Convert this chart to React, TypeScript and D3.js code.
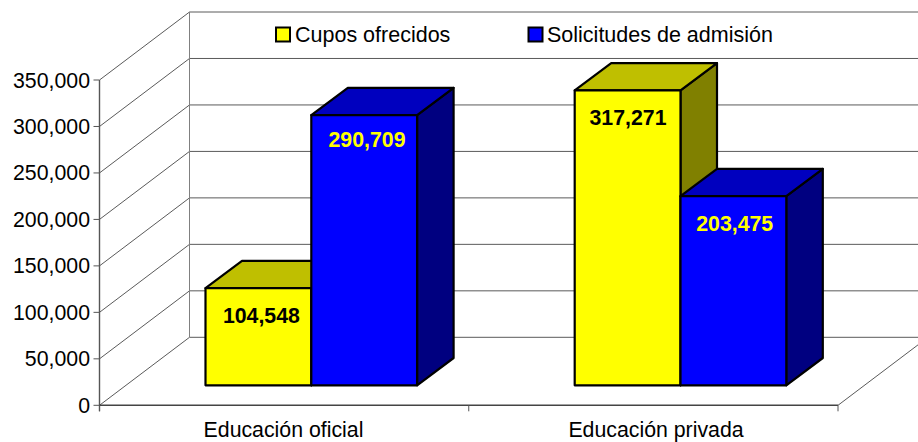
import React from "react";
import * as d3 from "d3";

const categories = ["Educación oficial", "Educación privada"];
const seriesNames = ["Cupos ofrecidos", "Solicitudes de admisión"];
const cupos = [104548, 317271];
const solicitudes = [290709, 203475];
const yTicks = [0, 50000, 100000, 150000, 200000, 250000, 300000, 350000];

const W = 918, H = 442;
const y = d3.scaleLinear().domain([0, 350000]).range([405.3, 80]);
const axisX = 99.5, axisEnd = 838;
const wallDx = 90, wallDy = -68;
const barDx = 36.5, barDy = -27.3, barLift = 20;
const groupX = d3.scalePoint<number>().domain([0, 1]).range([205.5, 574.7]);
const barW = 105.8;
const fmt = d3.format(",");
const font = "'Liberation Sans', Arial, sans-serif";
const line = "#5a5a5a";
const fontSize = 21.3;

const fills = [
  { front: "#FFFF00", top: "#BFBF00", side: "#808000", label: "#000000" },
  { front: "#0000FF", top: "#0000BF", side: "#000080", label: "#FFFF00" },
];
const labelDy = [[34.8, 34.8], [31.8, 34.8]];
const labelDx = [[3, 0.4], [2.8, 1.3]];

function Bar({ x, value, s, g }: { x: number; value: number; s: number; g: number }) {
  const c = fills[s];
  const b = y(0) - barLift;
  const t = y(value) - barLift;
  const r = x + barW;
  const pts = (a: number[][]) => a.map((p) => p.join(",")).join(" ");
  return (
    <g stroke="#000" strokeWidth={2.2} strokeLinejoin="round">
      <polygon fill={c.side} points={pts([[r, b], [r + barDx, b + barDy], [r + barDx, t + barDy], [r, t]])} />
      <polygon fill={c.top} points={pts([[x, t], [x + barDx, t + barDy], [r + barDx, t + barDy], [r, t]])} />
      <rect x={x} y={t} width={barW} height={b - t} fill={c.front} />
      <text
        x={x + barW / 2 + labelDx[s][g]}
        y={t + labelDy[s][g]}
        stroke="none"
        fill={c.label}
        fontSize={fontSize}
        fontWeight="bold"
        textAnchor="middle"
      >
        {fmt(value)}
      </text>
    </g>
  );
}

export default function App() {
  const series = [cupos, solicitudes];
  const catTicks = [axisX, (axisX + axisEnd) / 2, axisEnd];
  return (
    <svg
      width={W}
      height={H}
      viewBox={`0 0 ${W} ${H}`}
      style={{ position: "absolute", left: 0, top: 0, background: "#fff" }}
      fontFamily={font}
    >
      {yTicks.map((t) => (
        <g key={t} stroke={line} strokeWidth={1} fill="none">
          <line x1={axisX} y1={y(t)} x2={axisX + wallDx} y2={y(t) + wallDy} />
          <line x1={axisX + wallDx} y1={y(t) + wallDy} x2={W} y2={y(t) + wallDy} />
        </g>
      ))}
      <line x1={axisX + wallDx} y1={y(350000) + wallDy} x2={axisX + wallDx} y2={y(0) + wallDy} stroke="#808080" />
      <line x1={axisEnd} y1={y(0)} x2={axisEnd + wallDx} y2={y(0) + wallDy} stroke={line} />
      <line x1={axisX} y1={y(350000)} x2={axisX} y2={y(0) + 6} stroke="#555" strokeWidth={1.4} />
      <line x1={axisX} y1={y(0)} x2={axisEnd} y2={y(0)} stroke="#444" strokeWidth={1.4} />
      {yTicks.map((t) => (
        <g key={t}>
          <line x1={axisX - 6} y1={y(t)} x2={axisX} y2={y(t)} stroke="#555" />
          <text x={90} y={y(t) + 7.5} fontSize={fontSize} textAnchor="end" fill="#000">
            {fmt(t)}
          </text>
        </g>
      ))}
      {catTicks.map((x) => (
        <line key={x} x1={x} y1={y(0)} x2={x} y2={y(0) + 6} stroke="#555" />
      ))}
      {categories.map((c, g) => (
        <g key={c}>
          {series.map((vals, s) => (
            <Bar key={s} g={g} s={s} x={(groupX(g) as number) + s * barW} value={vals[g]} />
          ))}
          <text x={[283.5, 656][g]} y={436.6} fontSize={fontSize} textAnchor="middle" fill="#000">
            {c}
          </text>
        </g>
      ))}
      {seriesNames.map((n, i) => (
        <g key={n}>
          <rect x={[276, 528.5][i]} y={27.5} width={14} height={14} fill={fills[i].front} stroke="#000" strokeWidth={2} />
          <text x={[295, 547][i]} y={41.8} fontSize={21.5} fill="#000">
            {n}
          </text>
        </g>
      ))}
    </svg>
  );
}
